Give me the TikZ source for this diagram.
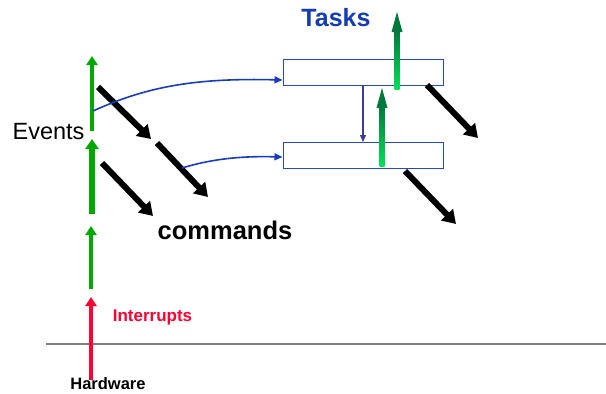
\documentclass[tikz,border=0pt]{standalone}
\usepackage{fontspec}
\setmainfont{Liberation Sans}
\usetikzlibrary{arrows.meta}
\definecolor{evgreen}{RGB}{0,168,0}
\definecolor{intred}{RGB}{255,0,50}
\definecolor{taskblue}{RGB}{20,60,180}
\definecolor{rectblue}{RGB}{40,70,200}
\definecolor{curveblue}{RGB}{25,60,190}
\definecolor{postind}{RGB}{60,60,150}
\definecolor{tgreenlight}{RGB}{0,225,90}
\definecolor{tgreendark}{RGB}{0,120,60}
\definecolor{hwgray}{RGB}{125,125,125}
\tikzset{
  evarrow/.style={draw=evgreen, line width=4pt, -{Triangle[length=9pt,width=11pt]}},
  cmdarrow/.style={draw=black, line width=6pt, -{Triangle[length=13pt,width=16pt]}},
  curvearrow/.style={draw=curveblue, line width=1.6pt, -{Triangle[length=8pt,width=7pt]}},
  taskbox/.style={draw=rectblue, line width=1pt, fill=white, minimum width=160pt, minimum height=26pt, inner sep=0pt},
  lbl/.style={inner sep=0pt, anchor=center}
}
\begin{document}
\begin{tikzpicture}[x=1pt,y=-1pt]
\useasboundingbox (0,0) rectangle (606,394);
\fill[white] (0,0) rectangle (606,394);

% hardware line
\coordinate (hl) at (46,344);
\coordinate (hr) at (606,344);
\draw[hwgray, line width=1.3pt] (hl) -- (hr);

% task boxes
\node[taskbox] (t1) at (363,72) {};
\node[taskbox] (t2) at (363,155.5) {};

% post arrow between tasks
\coordinate (pa) at (363,85);
\coordinate (pb) at (363,142);
\draw[postind, line width=1.3pt, -{Triangle[length=7pt,width=6pt]}] (pa) -- (pb);

% left event arrows
\coordinate (e1s) at (92,131);
\coordinate (e1e) at (92,56);
\coordinate (e2s) at (92,214);
\coordinate (e2e) at (92,139);
\coordinate (e3s) at (91,289);
\coordinate (e3e) at (91,226);
\draw[evarrow] (e1s) -- (e1e);
\draw[evarrow, line width=5.5pt, -{Triangle[length=10pt,width=13pt]}] (e2s) -- (e2e);
\draw[evarrow] (e3s) -- (e3e);

% interrupt arrow
\coordinate (is) at (91,380);
\coordinate (ie) at (91,297);
\draw[intred, line width=4.5pt, -{Triangle[length=9pt,width=11pt]}] (is) -- (ie);

% command arrows
\coordinate (ca1) at (98,87);
\coordinate (ca2) at (151,139);
\coordinate (cb1) at (157,143);
\coordinate (cb2) at (208,197);
\coordinate (cc1) at (102,163);
\coordinate (cc2) at (153,216);
\coordinate (cd1) at (427,85);
\coordinate (cd2) at (478,138);
\coordinate (ce1) at (405,171);
\coordinate (ce2) at (456,224);
\draw[cmdarrow] (ca1) -- (ca2);
\draw[cmdarrow] (cb1) -- (cb2);
\draw[cmdarrow] (cc1) -- (cc2);
\draw[cmdarrow] (cd1) -- (cd2);
\draw[cmdarrow] (ce1) -- (ce2);

% blue curves
\coordinate (bc1) at (93,111);
\coordinate (bc2) at (182,168);
\draw[curvearrow] (bc1) .. controls (150,85) and (200,78) .. (t1.west |- 0,80) ;
\draw[curvearrow] (bc2) .. controls (215,158) and (245,156) .. (t2.west |- 0,157);

% task gradient arrows
\shade[bottom color=tgreenlight, top color=tgreendark] (394.5,89) rectangle (399.5,30);
\fill[tgreendark] (397,12) -- (402.5,32) -- (391.5,32) -- cycle;
\shade[bottom color=tgreenlight, top color=tgreendark] (379.5,166) rectangle (384.5,106);
\fill[tgreendark] (382,88) -- (387.5,108) -- (376.5,108) -- cycle;

% labels
\node[lbl, font=\fontsize{23.5}{23.5}\selectfont] (ev) at (48.5,132) {Events};
\node[lbl, font=\fontsize{25.5}{25.5}\selectfont\bfseries] (cm) at (225,230) {commands};
\node[lbl, font=\fontsize{25}{25}\selectfont\bfseries, text=taskblue] (tk) at (336,18) {Tasks};
\node[lbl, font=\fontsize{17}{17}\selectfont\bfseries, text=intred] (ir) at (152.5,317) {Interrupts};
\node[lbl, font=\fontsize{16.5}{16.5}\selectfont\bfseries] (hw) at (108,384) {Hardware};
\end{tikzpicture}
\end{document}
